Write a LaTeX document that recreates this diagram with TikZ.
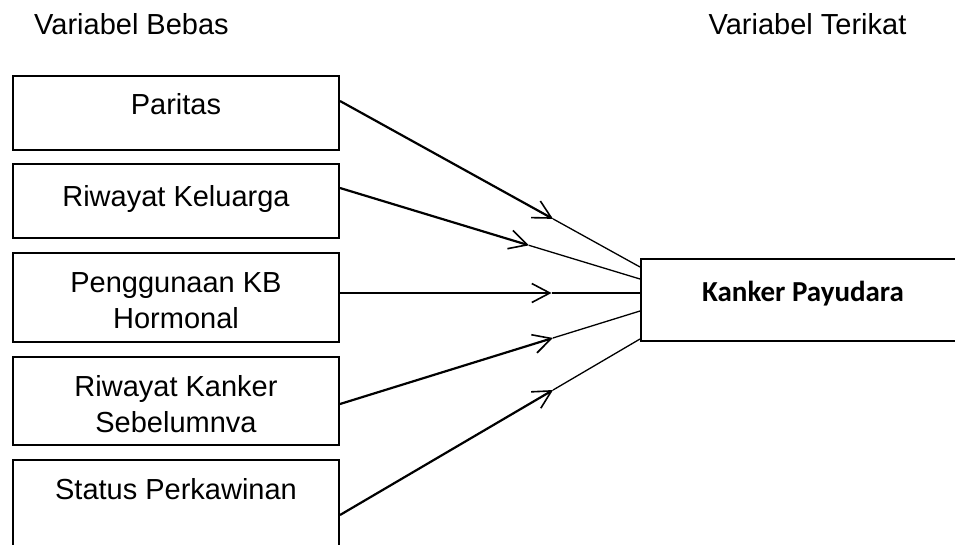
\documentclass[tikz,border=0pt]{standalone}
\usepackage{fontspec}
\setmainfont{Liberation Sans}
\newfontfamily\calibri{Carlito}
\usetikzlibrary{arrows.meta}
\usetikzlibrary{calc}
\usetikzlibrary{positioning}

\tikzset{
	kotak/.style={draw, line width=2pt, minimum width=326pt, inner sep=0pt},
	teks/.style={inner sep=0pt, align=center, font=\fontsize{29}{36.5}\selectfont},
	tebal/.style={line width=2.2pt, -{Straight Barb[length=18pt,width=19pt,line width=1.6pt]}},
	tipis/.style={line width=1.3pt}
}

\begin{document}
\begin{tikzpicture}[x=1pt,y=-1pt]
	\useasboundingbox (0,0) rectangle (955,544);
	\clip (0,0) rectangle (955,544);
	% judul kolom
	\node[teks, anchor=north] (bebas) at (131.5,13) {Variabel Bebas};
	\node[teks, anchor=north] (terikat) at (807.5,13) {Variabel Terikat};
	% variabel bebas
	\node[kotak, minimum height=74pt] (paritas) at (176,113) {};
	\node[kotak, minimum height=74pt] (keluarga) at (176,201) {};
	\node[kotak, minimum height=89pt] (kb) at (176,297.5) {};
	\node[kotak, minimum height=88pt] (kanker) at (176,401) {};
	\node[kotak, minimum height=110pt] (status) at (176,515) {};
	\node[teks, below=18pt of paritas.north] (tparitas) {Paritas};
	\node[teks, below=22pt of keluarga.north] (tkeluarga) {Riwayat Keluarga};
	\node[teks, below=20pt of kb.north] (tkb) {Penggunaan KB\\Hormonal};
	\node[teks, below=19pt of kanker.north] (tkanker) {Riwayat Kanker\\Sebelumnva};
	\node[teks, below=19pt of status.north] (tstatus) {Status Perkawinan};
	% variabel terikat
	\node[kotak, minimum width=319pt, minimum height=82pt] (payudara) at (800.5,300) {};
	\node[teks, font=\calibri\bfseries\fontsize{29}{36}\selectfont, below=23pt of payudara.north, xshift=2.5pt] (tpayudara) {Kanker Payudara};
	% panah
	\foreach \asal/\ya/\yb/\t in {paritas/12/33/0.71, keluarga/13/21/0.63, kb/4.5/7/0.705, kanker/-3/-11/0.71, status/0/-39/0.71} {
		\coordinate (awal) at ([yshift=\ya pt]\asal.east);
		\coordinate (akhir) at ([yshift=\yb pt]payudara.west);
		\draw[tebal] (awal) -- ($(awal)!\t!(akhir)$) coordinate (tengah);
		\draw[tipis] (tengah) -- (akhir);
	}
\end{tikzpicture}
\end{document}
